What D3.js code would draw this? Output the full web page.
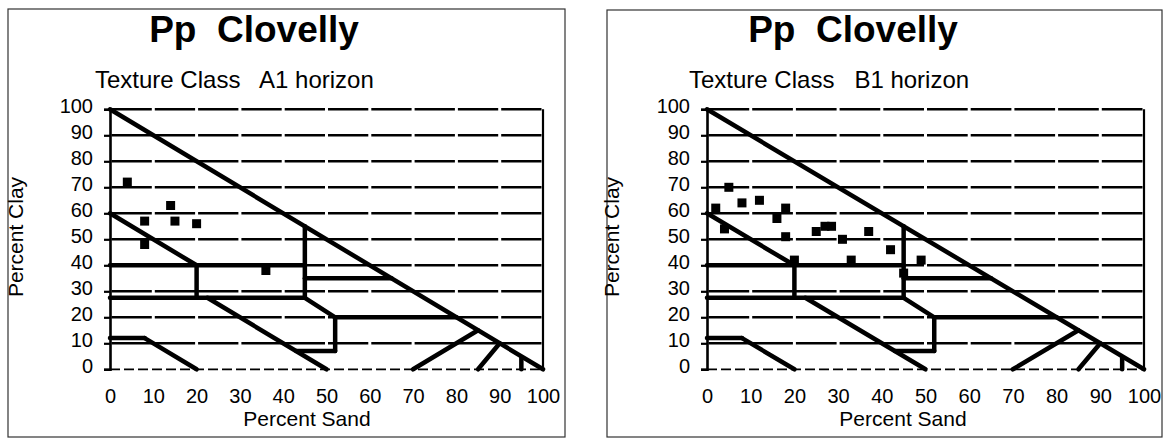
<!DOCTYPE html>
<html>
<head>
<meta charset="utf-8">
<script src="https://cdn.jsdelivr.net/npm/d3@7"></script>
<style>
  html, body { margin: 0; padding: 0; background: #fff; }
  text { font-family: "Liberation Sans", Arial, sans-serif; fill: #000; }
</style>
</head>
<body>
<div id="d3-container"></div>
<script>
// tick values on both axes
const sandTicks = [0, 10, 20, 30, 40, 50, 60, 70, 80, 90, 100];
const clayTicks = [0, 10, 20, 30, 40, 50, 60, 70, 80, 90, 100];

// A1 horizon samples (percent sand, percent clay)
const a1Sand = [4, 14, 8, 15, 20, 8, 36];
const a1Clay = [72, 63, 57, 57, 56, 48, 38];

// B1 horizon samples
const b1Sand = [2, 5, 4, 8, 12, 16, 18, 18, 20, 25, 27, 28.5, 31, 33, 37, 42, 45, 49];
const b1Clay = [62, 70, 54, 64, 65, 58, 62, 51, 42, 53, 55, 55, 50, 42, 53, 46, 37, 42];

// texture class boundaries, [sand, clay] end points
const classLines = [
  [[0, 100], [100, 0]],
  [[0, 60], [20, 40]],
  [[0, 40], [45, 40]],
  [[20, 40], [20, 27.5]],
  [[0, 27.5], [45, 27.5]],
  [[45, 27.5], [45, 55]],
  [[45, 35], [65, 35]],
  [[45, 27.5], [52, 20]],
  [[52, 20], [80, 20]],
  [[52, 20], [52, 7]],
  [[43, 7], [52, 7]],
  [[22.5, 27.5], [50, 0]],
  [[0, 12], [8, 12]],
  [[8, 12], [20, 0]],
  [[70, 0], [85, 15]],
  [[85, 0], [90, 10]],
  [[95, 0], [95, 4.5]]
];

const width = 1164;
const height = 438;

const panels = [
  { title: "Pp  Clovelly", subtitle: "Texture Class   A1 horizon", sand: a1Sand, clay: a1Clay,
    frame: [8, 9, 565, 437], left: 110, right: 543, titleX: 254, subX: 95, clayX: 16, sandX: 307 },
  { title: "Pp  Clovelly", subtitle: "Texture Class   B1 horizon", sand: b1Sand, clay: b1Clay,
    frame: [607, 10, 1162, 437], left: 707, right: 1144, titleX: 853, subX: 689, clayX: 612, sandX: 903 }
];

const svg = d3.select('#d3-container')
  .append('svg')
  .attr('width', width)
  .attr('height', height)
  .attr('viewBox', [0, 0, width, height]);

function drawPanel(p) {
  const g = svg.append('g');

  const x = d3.scaleLinear().domain([0, 100]).range([p.left, p.right]);
  const y = d3.scaleLinear().domain([0, 100]).range([369.3, 109.3]);
  const step = x(10) - x(0);

  // outer frame
  g.append('rect')
    .attr('x', p.frame[0]).attr('y', p.frame[1])
    .attr('width', p.frame[2] - p.frame[0])
    .attr('height', p.frame[3] - p.frame[1])
    .attr('fill', 'none')
    .attr('stroke', '#333')
    .attr('stroke-width', 1.2);

  g.append('text')
    .attr('x', p.titleX).attr('y', 42)
    .attr('text-anchor', 'middle')
    .attr('font-size', 37)
    .attr('font-weight', 'bold')
    .style('white-space', 'pre')
    .text(p.title);

  g.append('text')
    .attr('x', p.subX).attr('y', 88)
    .attr('font-size', 24)
    .style('white-space', 'pre')
    .text(p.subtitle);

  // horizontal grid, broken at every sand tick like the scan
  g.append('g')
    .selectAll('line')
    .data(clayTicks)
    .join('line')
      .attr('x1', x(0)).attr('x2', x(100))
      .attr('y1', d => y(d)).attr('y2', d => y(d))
      .attr('stroke', '#000')
      .attr('stroke-width', d => d === 0 ? 1.8 : 2.4)
      .attr('stroke-dasharray', d => d === 0 ? '10,4' : `${step - 3},3`)
      .attr('stroke-dashoffset', d => d === 0 ? 0 : -1.5);

  // plot right border
  g.append('line')
    .attr('x1', x(100)).attr('x2', x(100))
    .attr('y1', y(0)).attr('y2', y(100))
    .attr('stroke', '#000').attr('stroke-width', 2.2);

  // y axis
  const yAxis = g.append('g')
    .attr('transform', `translate(${x(0)},0)`)
    .call(d3.axisLeft(y).tickValues(clayTicks).tickSize(6).tickPadding(11));
  yAxis.select('.domain').attr('stroke', '#000').attr('stroke-width', 2.6);
  yAxis.selectAll('.tick line').attr('stroke', '#000').attr('stroke-width', 2.2);
  yAxis.selectAll('.tick text')
    .attr('font-size', 20)
    .attr('font-family', '"Liberation Sans", Arial, sans-serif')
    .attr('dy', '0.15em');

  // x axis (labels only)
  const xAxis = g.append('g')
    .attr('transform', `translate(0,${y(0)})`)
    .call(d3.axisBottom(x).tickValues(sandTicks).tickSize(0).tickPadding(20));
  xAxis.select('.domain').remove();
  xAxis.selectAll('.tick text')
    .attr('font-size', 20)
    .attr('font-family', '"Liberation Sans", Arial, sans-serif');

  // texture class boundaries
  g.append('g')
    .selectAll('line')
    .data(classLines)
    .join('line')
      .attr('x1', d => x(d[0][0])).attr('y1', d => y(d[0][1]))
      .attr('x2', d => x(d[1][0])).attr('y2', d => y(d[1][1]))
      .attr('stroke', '#000')
      .attr('stroke-width', 4.5)
      .attr('stroke-linecap', 'round');

  // samples
  const pts = p.sand.map((s, i) => ({ s, c: p.clay[i] }));
  g.append('g')
    .selectAll('rect')
    .data(pts)
    .join('rect')
      .attr('x', d => x(d.s) - 4.5)
      .attr('y', d => y(d.c) - 4.5)
      .attr('width', 9)
      .attr('height', 9)
      .attr('fill', '#000');

  g.append('text')
    .attr('transform', `translate(${p.clayX + 7},237) rotate(-90)`)
    .attr('text-anchor', 'middle')
    .attr('font-size', 21)
    .text('Percent Clay');

  g.append('text')
    .attr('x', p.sandX).attr('y', 426)
    .attr('text-anchor', 'middle')
    .attr('font-size', 21)
    .text('Percent Sand');
}

panels.forEach(drawPanel);
</script>
</body>
</html>
